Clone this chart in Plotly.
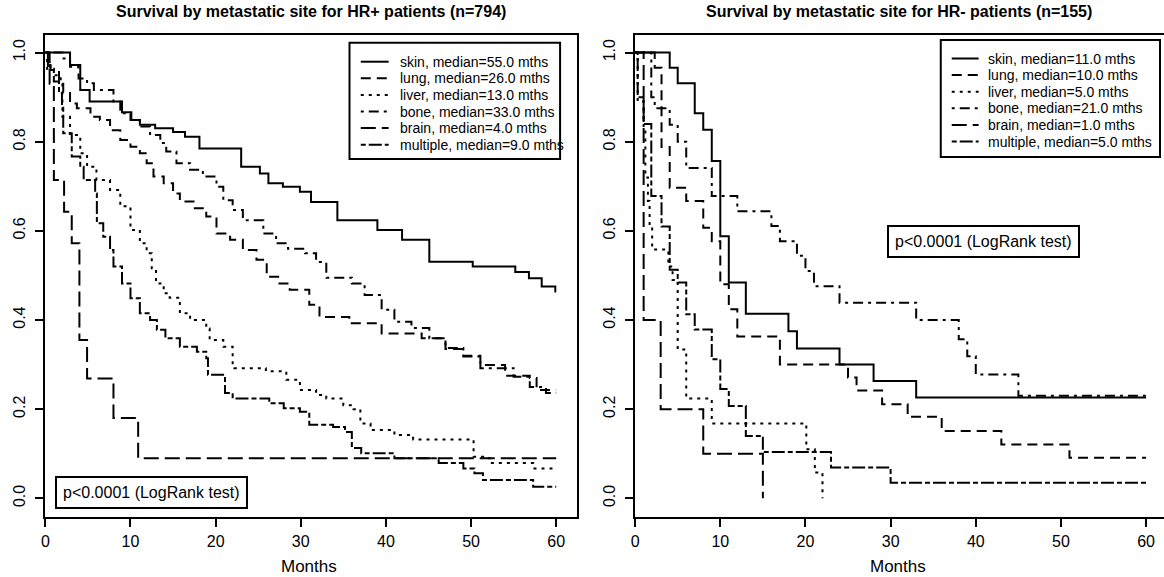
import plotly.graph_objects as go

# ---------------- data ----------------
# HR+ patients (left panel): months and survival probability (step curves)
hrp_skin_m = [0, 2.9, 4.1, 5.2, 9.0, 10.1, 11.1, 12.9, 15.0, 16.4, 18.1, 23.0, 25.2, 26.2, 27.9, 29.9, 31.2, 34.3, 39.0, 41.9, 45.1, 50.2, 55.2, 56.8, 58.3, 59.9, 60]
hrp_skin_s = [1.0, 0.972, 0.916, 0.89, 0.866, 0.849, 0.838, 0.83, 0.822, 0.811, 0.785, 0.744, 0.729, 0.707, 0.699, 0.688, 0.665, 0.624, 0.602, 0.58, 0.531, 0.52, 0.508, 0.494, 0.475, 0.464, 0.464]

hrp_lung_m = [0, 0.3, 0.6, 1.6, 2.1, 2.9, 3.7, 5.3, 6.4, 7.6, 8.8, 10.0, 11.1, 11.9, 12.7, 13.9, 15.0, 15.8, 17.4, 18.9, 20.1, 21.7, 23.2, 24.8, 26.0, 27.5, 28.7, 31.0, 32.2, 35.7, 39.5, 44.2, 47.0, 49.1, 51.1, 54.0, 56.9, 57.7, 60]
hrp_lung_s = [1.0, 0.972, 0.961, 0.939, 0.912, 0.886, 0.875, 0.856, 0.849, 0.826, 0.804, 0.789, 0.774, 0.752, 0.722, 0.707, 0.684, 0.666, 0.651, 0.632, 0.594, 0.58, 0.557, 0.535, 0.497, 0.482, 0.468, 0.434, 0.407, 0.393, 0.37, 0.359, 0.335, 0.32, 0.299, 0.275, 0.27, 0.243, 0.243]

hrp_liver_m = [0, 0.2, 1.0, 1.8, 2.0, 2.9, 4.1, 4.9, 6.0, 7.6, 8.8, 10.0, 11.1, 11.9, 12.5, 13.0, 13.9, 14.6, 15.8, 17.0, 18.9, 19.3, 20.9, 22.0, 22.2, 25.9, 28.3, 29.9, 31.8, 33.0, 35.0, 36.2, 37.0, 38.2, 41.0, 43.2, 50.3, 51.6, 52.2, 57.3, 60]
hrp_liver_s = [1.0, 0.964, 0.949, 0.935, 0.856, 0.815, 0.774, 0.744, 0.714, 0.692, 0.655, 0.602, 0.572, 0.55, 0.516, 0.482, 0.46, 0.45, 0.415, 0.4, 0.381, 0.355, 0.34, 0.3, 0.292, 0.285, 0.266, 0.243, 0.232, 0.224, 0.209, 0.2, 0.168, 0.153, 0.142, 0.132, 0.093, 0.09, 0.079, 0.067, 0.067]

hrp_bone_m = [0, 2.0, 2.9, 3.9, 4.9, 5.7, 8.0, 8.8, 10.0, 11.1, 12.3, 13.5, 14.2, 15.4, 17.0, 18.5, 20.1, 20.9, 22.0, 23.2, 25.6, 27.1, 28.5, 30.5, 31.8, 33.0, 36.0, 37.5, 39.5, 41.0, 43.0, 45.1, 47.0, 49.1, 51.1, 55.0, 56.9, 58.8, 60]
hrp_bone_s = [1.0, 0.987, 0.968, 0.942, 0.931, 0.916, 0.89, 0.864, 0.849, 0.834, 0.815, 0.797, 0.778, 0.752, 0.737, 0.722, 0.699, 0.669, 0.647, 0.624, 0.594, 0.572, 0.56, 0.55, 0.53, 0.495, 0.482, 0.456, 0.423, 0.396, 0.382, 0.359, 0.337, 0.318, 0.292, 0.273, 0.25, 0.236, 0.236]

hrp_brain_m = [0, 0.5, 1.0, 2.2, 3.1, 4.0, 4.9, 8.0, 10.9, 60]
hrp_brain_s = [1.0, 0.93, 0.714, 0.643, 0.572, 0.355, 0.269, 0.18, 0.09, 0.09]

hrp_mult_m = [0, 0.3, 0.6, 1.0, 1.6, 1.95, 2.1, 3.1, 4.1, 4.5, 5.85, 6.05, 6.8, 7.6, 8.0, 9.0, 10.0, 11.1, 12.3, 13.1, 14.1, 15.8, 17.8, 18.9, 19.1, 21.1, 22.0, 26.3, 28.0, 29.9, 31.0, 33.8, 35.2, 36.0, 37.1, 41.0, 46.2, 49.1, 50.4, 51.4, 57.3, 60]
hrp_mult_s = [1.0, 0.97, 0.961, 0.935, 0.909, 0.879, 0.819, 0.767, 0.744, 0.714, 0.684, 0.617, 0.587, 0.557, 0.52, 0.482, 0.449, 0.415, 0.4, 0.378, 0.359, 0.34, 0.329, 0.314, 0.277, 0.236, 0.224, 0.213, 0.202, 0.194, 0.165, 0.16, 0.149, 0.113, 0.101, 0.09, 0.079, 0.067, 0.056, 0.041, 0.026, 0.026]

# HR- patients (right panel)
hrn_skin_m = [0, 4.06, 5.0, 7.0, 8.0, 9.0, 10.0, 11.0, 13.0, 18.0, 19.0, 24.0, 28.0, 33.0, 60]
hrn_skin_s = [1.0, 0.966, 0.931, 0.864, 0.827, 0.757, 0.588, 0.484, 0.414, 0.375, 0.336, 0.30, 0.263, 0.226, 0.226]

hrn_lung_m = [0, 2.3, 3.1, 4.06, 6.0, 8.0, 9.0, 10.0, 11.0, 12.0, 17.0, 25.0, 26.0, 29.0, 32.0, 36.0, 43.0, 51.0, 60]
hrn_lung_s = [1.0, 0.966, 0.788, 0.697, 0.667, 0.607, 0.577, 0.48, 0.424, 0.363, 0.30, 0.271, 0.242, 0.211, 0.183, 0.151, 0.121, 0.091, 0.091]

hrn_liver_m = [0, 0.3, 1.0, 1.2, 1.5, 1.7, 2.0, 3.9, 4.4, 5.0, 6.0, 9.0, 20.1, 21.1, 22.0]
hrn_liver_s = [1.0, 0.89, 0.83, 0.72, 0.667, 0.61, 0.558, 0.52, 0.49, 0.334, 0.224, 0.168, 0.11, 0.058, 0.0]

hrn_bone_m = [0, 1.9, 2.3, 4.06, 5.0, 6.0, 9.0, 12.0, 16.0, 17.0, 19.0, 20.0, 21.0, 24.0, 33.0, 38.0, 39.0, 40.0, 45.0, 60]
hrn_bone_s = [1.0, 0.90, 0.875, 0.838, 0.80, 0.741, 0.678, 0.644, 0.611, 0.577, 0.544, 0.51, 0.476, 0.439, 0.40, 0.357, 0.319, 0.278, 0.23, 0.23]

hrn_brain_m = [0, 1.0, 3.0, 8.0, 15.0]
hrn_brain_s = [1.0, 0.4, 0.2, 0.1, 0.0]

hrn_mult_m = [0, 0.3, 1.0, 1.9, 3.1, 4.06, 5.0, 6.0, 7.0, 9.0, 10.0, 11.0, 13.0, 15.0, 23.0, 30.0, 60]
hrn_mult_s = [1.0, 0.9, 0.84, 0.678, 0.61, 0.513, 0.484, 0.413, 0.379, 0.312, 0.245, 0.207, 0.14, 0.104, 0.069, 0.035, 0.035]

sites = ["skin", "lung", "liver", "bone", "brain", "multiple"]
hrp_medians = ["55.0", "26.0", "13.0", "33.0", "4.0", "9.0"]
hrn_medians = ["11.0", "10.0", "5.0", "21.0", "1.0", "5.0"]

x_ticks = [0, 10, 20, 30, 40, 50, 60]
y_ticks = [0.0, 0.2, 0.4, 0.6, 0.8, 1.0]

left_title = "Survival by metastatic site for HR+ patients (n=794)"
right_title = "Survival by metastatic site for HR- patients (n=155)"
pval_text = "p<0.0001 (LogRank test)"
x_label = "Months"

# ---------------- styles / layout helpers ----------------
dashes = ["solid", "10px,6px", "3px,5px", "3px,5px,10px,5px", "15px,6px", "5px,3px,13px,3px"]
FONT = "Liberation Sans, Arial, Helvetica, sans-serif"
FW, FH = 1164, 577


def px(x):
    return x / FW


def py(y):
    return 1 - y / FH


hrp = [(hrp_skin_m, hrp_skin_s), (hrp_lung_m, hrp_lung_s), (hrp_liver_m, hrp_liver_s),
       (hrp_bone_m, hrp_bone_s), (hrp_brain_m, hrp_brain_s), (hrp_mult_m, hrp_mult_s)]
hrn = [(hrn_skin_m, hrn_skin_s), (hrn_lung_m, hrn_lung_s), (hrn_liver_m, hrn_liver_s),
       (hrn_bone_m, hrn_bone_s), (hrn_brain_m, hrn_brain_s), (hrn_mult_m, hrn_mult_s)]

fig = go.Figure()
for i, (m, s) in enumerate(hrp):
    fig.add_trace(go.Scatter(x=m, y=s, mode="lines", line_shape="hv",
                             line=dict(color="black", width=2, dash=dashes[i]),
                             name=f"{sites[i]}, median={hrp_medians[i]} mths",
                             xaxis="x", yaxis="y", showlegend=False))
for i, (m, s) in enumerate(hrn):
    fig.add_trace(go.Scatter(x=m, y=s, mode="lines", line_shape="hv",
                             line=dict(color="black", width=2, dash=dashes[i]),
                             name=f"{sites[i]}, median={hrn_medians[i]} mths",
                             xaxis="x2", yaxis="y2", showlegend=False))

axis_common = dict(showgrid=False, zeroline=False, showline=True, linecolor="black", linewidth=2,
                   ticks="outside", ticklen=8, tickwidth=2, tickcolor="black",
                   tickfont=dict(family=FONT, size=16, color="black"))

ydom = [py(517.3), py(34.5)]
fig.update_layout(
    width=FW, height=FH, margin=dict(l=0, r=0, t=0, b=0),
    paper_bgcolor="white", plot_bgcolor="white", showlegend=False,
    xaxis=dict(domain=[px(41.5), px(575)], range=[0, 62.45], tickvals=x_ticks, mirror=True,
               anchor="y", **axis_common),
    yaxis=dict(domain=ydom, range=[-0.0426, 1.0406], tickvals=y_ticks, tickformat=".1f",
               tickangle=-90, mirror=True, anchor="x", ticklabelstandoff=4, **axis_common),
    xaxis2=dict(domain=[px(633.3), 1.0], range=[0, 62.1], tickvals=x_ticks, mirror=True,
                anchor="y2", **axis_common),
    yaxis2=dict(domain=ydom, range=[-0.0426, 1.0406], tickvals=y_ticks, tickformat=".1f",
                tickangle=-90, mirror=False, anchor="x2", ticklabelstandoff=4, **axis_common),
)

ann = []
shapes = []
ann.append(dict(text=f"<b>{left_title}</b>", x=px(308), y=py(11.5), xref="paper", yref="paper",
                showarrow=False, xanchor="center", yanchor="middle",
                font=dict(family=FONT, size=16, color="black")))
ann.append(dict(text=f"<b>{right_title}</b>", x=px(898), y=py(11.5), xref="paper", yref="paper",
                showarrow=False, xanchor="center", yanchor="middle",
                font=dict(family=FONT, size=16, color="black")))
for cx in (306, 897):
    ann.append(dict(text=x_label, x=px(cx), y=py(566), xref="paper", yref="paper",
                    showarrow=False, xanchor="center", yanchor="middle",
                    font=dict(family=FONT, size=17, color="black")))
for (cx, cy) in ((148.3, 492.5), (983.3, 241)):
    ann.append(dict(text=pval_text, x=px(cx), y=py(cy), xref="paper", yref="paper",
                    showarrow=False, xanchor="center", yanchor="middle", bgcolor="white",
                    bordercolor="black", borderwidth=2, borderpad=6,
                    font=dict(family=FONT, size=16, color="black")))

# manual legends (box, line samples, labels)
legends = [
    dict(box=(346.7, 42.7, 558, 159), line_x=(358, 386), text_x=395, row0=61.7, medians=hrp_medians),
    dict(box=(940, 40, 1160, 157), line_x=(951, 978), text_x=985, row0=58.5, medians=hrn_medians),
]
ROW = 16.6
for lg in legends:
    x0, y0, x1, y1 = lg["box"]
    shapes.append(dict(type="rect", xref="paper", yref="paper", x0=px(x0), x1=px(x1),
                       y0=py(y1), y1=py(y0), line=dict(color="black", width=2), fillcolor="white",
                       layer="above"))
    for i in range(len(sites)):
        yy = lg["row0"] + i * ROW
        shapes.append(dict(type="line", xref="paper", yref="paper",
                           x0=px(lg["line_x"][0]), x1=px(lg["line_x"][1]), y0=py(yy), y1=py(yy),
                           line=dict(color="black", width=2, dash=dashes[i]), layer="above"))
        ann.append(dict(text=f"{sites[i]}, median={lg['medians'][i]} mths", x=px(lg["text_x"]),
                        y=py(yy), xref="paper", yref="paper", showarrow=False,
                        xanchor="left", yanchor="middle",
                        font=dict(family=FONT, size=14, color="black")))

fig.update_layout(annotations=ann, shapes=shapes)

fig.write_html("out.html",
               config={"displayModeBar": False, "staticPlot": True},
               post_script="document.body.style.margin='0';document.body.style.overflow='hidden';")
